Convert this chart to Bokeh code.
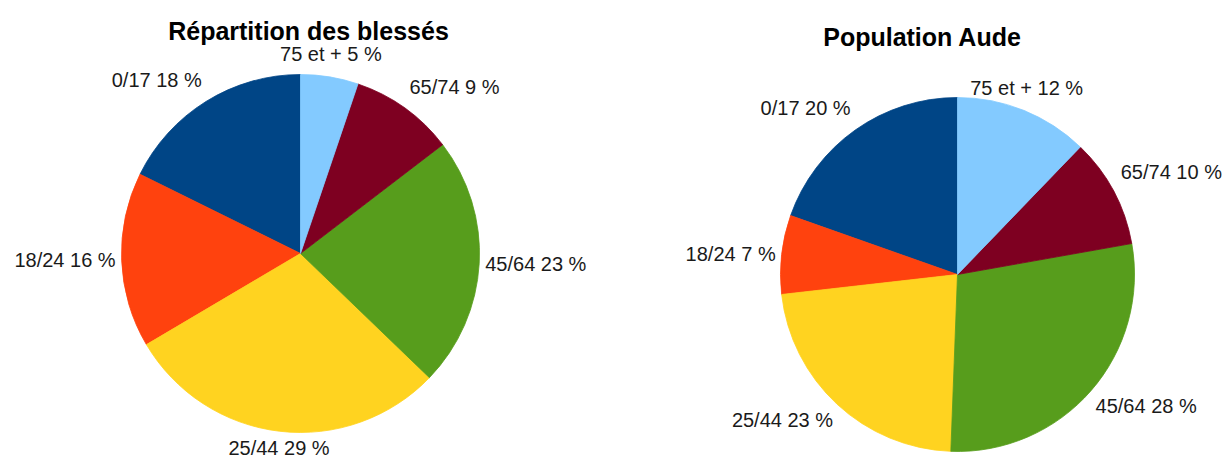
import math
from bokeh.plotting import figure
from bokeh.models import Range1d, ColumnDataSource
from bokeh.core.properties import value
from bokeh.embed import file_html
from bokeh.resources import INLINE

# ---- data ----
categories = ["0/17", "18/24", "25/44", "45/64", "65/74", "75 et +"]
blesses = [17.7, 15.8, 29.3, 22.6, 9.4, 5.2]
population = [19.6, 7.2, 22.6, 28.4, 10.0, 12.2]
colors = ["#004586", "#ff420e", "#ffd320", "#579d1c", "#7e0021", "#83caff"]
titles = ["Répartition des blessés", "Population Aude"]

W, H = 1223, 459
FONT = "Liberation Sans"


def dx(X):
    return X


def dy(Y):
    return H - Y


p = figure(width=W, height=H, output_backend="svg", toolbar_location=None,
           x_range=Range1d(0, W), y_range=Range1d(0, H), min_border=0,
           outline_line_color=None)
p.axis.visible = False
p.grid.visible = False
p.background_fill_color = "white"
p.border_fill_color = "white"


def draw_pie(vals, cx, cy, r, title, tx, ty):
    total = sum(vals)
    starts, ends = [], []
    c = 0.0
    lx, ly, lt, la, lb = [], [], [], [], []
    for cat, v in zip(categories, vals):
        s = math.pi / 2 + 2 * math.pi * c / total
        c += v
        e = math.pi / 2 + 2 * math.pi * c / total
        starts.append(s)
        ends.append(e)
        m = (s + e) / 2
        cm, sm = math.cos(m), math.sin(m)
        align = "left" if cm > 0.42 else ("right" if cm < -0.42 else "center")
        base = "bottom" if sm > 0.3 else ("top" if sm < -0.3 else "middle")
        if base == "middle":
            rr = r + 6
        elif base == "top":
            rr = r + 6
        else:
            rr = r + 8
        x = dx(cx) + rr * cm
        y = dy(cy) + rr * sm
        if base == "bottom":
            y += 4
        lx.append(x)
        ly.append(y)
        lt.append(f"{cat} {round(v / total * 100)} %")
        la.append(align)
        lb.append(base)
    src = ColumnDataSource(dict(x=[dx(cx)] * len(vals), y=[dy(cy)] * len(vals),
                                s=starts, e=ends, c=colors))
    p.wedge(x="x", y="y", radius=r, radius_units="screen", start_angle="s",
            end_angle="e", direction="anticlock", fill_color="c",
            line_color="c", line_width=0.8, source=src)
    lsrc = ColumnDataSource(dict(x=lx, y=ly, t=lt, a=la, b=lb))
    p.text(x="x", y="y", text="t", text_align="a", text_baseline="b",
           text_font=value(FONT), text_font_size="20px", text_color="#1a1a1a",
           source=lsrc)
    p.text(x=[dx(tx)], y=[dy(ty)], text=[title], text_align="center",
           text_baseline="middle", text_font=value(FONT),
           text_font_size="25px", text_font_style="bold", text_color="#000000")


draw_pie(blesses, 300, 253, 179, titles[0], 308, 30)
draw_pie(population, 957, 274, 177, titles[1], 922, 36)

open("out.html", "w").write(file_html(p, INLINE))
